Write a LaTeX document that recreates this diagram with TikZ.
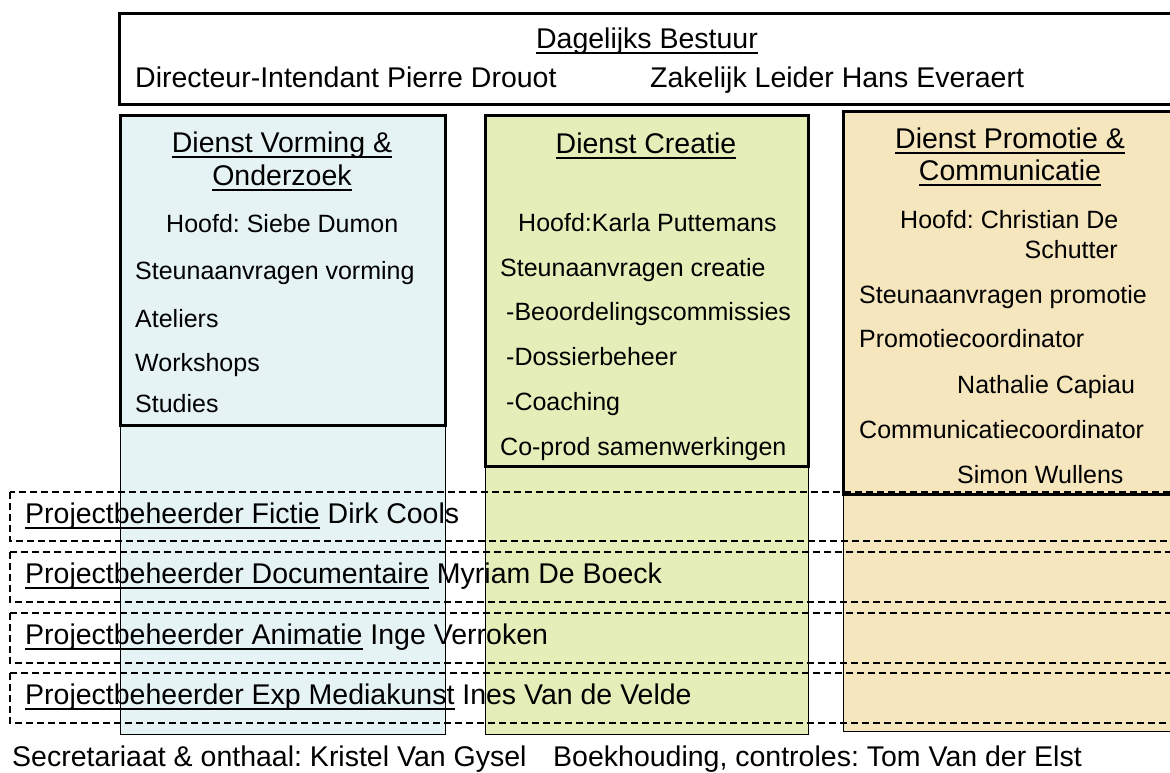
\documentclass[tikz,border=0pt]{standalone}
\usepackage{fontspec}
\setmainfont{Liberation Sans}
\usepackage{tikz}
\usepackage{xcolor}
\definecolor{vorming}{RGB}{230,243,245}
\definecolor{creatie}{RGB}{229,237,184}
\definecolor{promotie}{RGB}{246,230,190}
\newcommand{\undl}[1]{\setbox0=\hbox{#1}\rlap{\rule[-5.5pt]{\wd0}{1.3pt}}\box0\relax}
\frenchspacing
\tikzset{
    dienst-column/.style = {draw=black, line width=1pt},
    dienst-box/.style = {draw=black, line width=3pt},
    project-row/.style = {draw=black, line width=1.2pt, dash pattern=on 7pt off 4pt},
    big-text/.style = {font=\fontsize{28.5}{34}\selectfont, inner sep=0pt},
    small-text/.style = {font=\fontsize{25}{30}\selectfont, inner sep=0pt, anchor=base west},
}

\begin{document}
\begin{tikzpicture}[x=1pt, y=-1pt]
\useasboundingbox (0,0) rectangle (1170,772);
\clip (0,0) rectangle (1170,772);

% kolommen
\draw[dienst-column, fill=vorming] (120,115) rectangle (445,734);
\draw[dienst-column, fill=creatie] (485,115) rectangle (808,734);
\draw[dienst-column, fill=promotie] (843,111) rectangle (1190,731);

% dagelijks bestuur
\draw[dienst-box, fill=white] (119,13) rectangle (1190,104);
\node[big-text, anchor=base] (bestuur) at (647,48) {\undl{Dagelijks Bestuur}};
\node[big-text, anchor=base west] (directeur) at (135,87) {Directeur-Intendant Pierre Drouot};
\node[big-text, anchor=base west] (leider) at (650,87) {Zakelijk Leider Hans Everaert};

% diensten
\draw[dienst-box] (120,115) rectangle (445,425);
\node[big-text, anchor=base] (vorming-titel) at (282,152) {\undl{Dienst Vorming \&}};
\node[big-text, anchor=base] (vorming-titel2) at (282,185) {\undl{Onderzoek}};
\node[small-text] (vorming-hoofd) at (166,232) {Hoofd: Siebe Dumon};
\node[small-text] (vorming-steun) at (135,279) {Steunaanvragen vorming};
\node[small-text] (ateliers) at (135,327) {Ateliers};
\node[small-text] (workshops) at (135,371) {Workshops};
\node[small-text] (studies) at (135,412) {Studies};

\draw[dienst-box] (485,115) rectangle (808,466);
\node[big-text, anchor=base] (creatie-titel) at (646,153) {\undl{Dienst Creatie}};
\node[small-text] (creatie-hoofd) at (518,231) {Hoofd:Karla Puttemans};
\node[small-text] (creatie-steun) at (500,276) {Steunaanvragen creatie};
\node[small-text] (beoordeling) at (506,320) {-Beoordelingscommissies};
\node[small-text] (dossier) at (506,365) {-Dossierbeheer};
\node[small-text] (coaching) at (506,410) {-Coaching};
\node[small-text] (coprod) at (500,455) {Co-prod samenwerkingen};

\draw[dienst-box] (843,111) rectangle (1190,494);
\node[big-text, anchor=base] (promotie-titel) at (1010,148) {\undl{Dienst Promotie \&}};
\node[big-text, anchor=base] (promotie-titel2) at (1010,180) {\undl{Communicatie}};
\node[small-text] (promotie-hoofd) at (900,228) {Hoofd: Christian De};
\node[small-text, anchor=base east] (promotie-hoofd2) at (1118,258) {Schutter};
\node[small-text] (promotie-steun) at (859,303) {Steunaanvragen promotie};
\node[small-text] (promotiecoord) at (859,347) {Promotiecoordinator};
\node[small-text] (capiau) at (957,393) {Nathalie Capiau};
\node[small-text] (communicatiecoord) at (859,438) {Communicatiecoordinator};
\node[small-text] (wullens) at (957,483) {Simon Wullens};

% projectbeheerders
\draw[project-row] (10,492) rectangle (1190,541);
\node[big-text, anchor=base west] (fictie) at (25,523) {\undl{Projectbeheerder Fictie} Dirk Cools};
\draw[project-row] (10,552) rectangle (1190,602);
\node[big-text, anchor=base west] (documentaire) at (25,583) {\undl{Projectbeheerder Documentaire} Myriam De Boeck};
\draw[project-row] (10,613) rectangle (1190,663);
\node[big-text, anchor=base west] (animatie) at (25,644) {\undl{Projectbeheerder Animatie} Inge Verroken};
\draw[project-row] (10,673) rectangle (1190,723);
\node[big-text, anchor=base west] (mediakunst) at (25,704) {\undl{Projectbeheerder Exp Mediakunst} Ines Van de Velde};

% ondersteuning
\node[big-text, anchor=base west] (secretariaat) at (12,766) {Secretariaat \& onthaal: Kristel Van Gysel};
\node[big-text, anchor=base west] (boekhouding) at (553,766) {Boekhouding, controles: Tom Van der Elst};
\end{tikzpicture}
\end{document}
